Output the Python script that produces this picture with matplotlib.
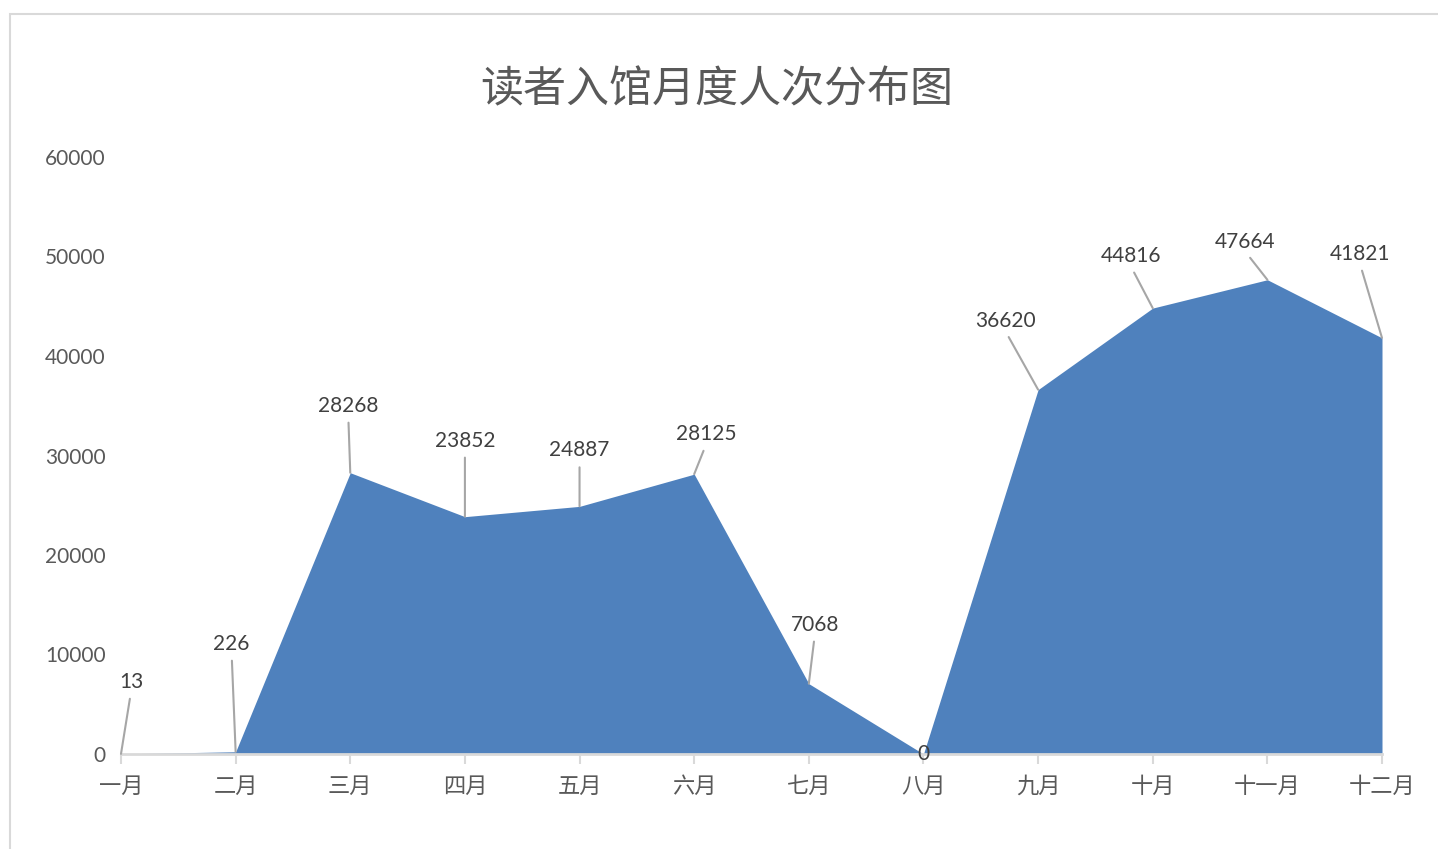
import numpy as np
import matplotlib
matplotlib.use("Agg")
import matplotlib.pyplot as plt
from matplotlib.patches import Rectangle

plt.rcParams['font.family'] = ['Noto Sans CJK SC', 'DejaVu Sans']

# data
months = ["一月", "二月", "三月", "四月", "五月", "六月",
          "七月", "八月", "九月", "十月", "十一月", "十二月"]
visits = [13, 226, 28268, 23852, 24887, 28125, 7068, 0, 36620, 44816, 47664, 41821]
y_ticks = [0, 10000, 20000, 30000, 40000, 50000, 60000]

# label offsets in pixels (dx, dy) relative to each point
label_offsets = [(10, 72), (-4, 108), (-2, 67), (0, 76), (0, 56), (12, 40),
                 (6, 59), (0, 0), (-33, 69), (-22, 52), (-22, 38), (-22, 84)]

W, H = 1438, 849
fig = plt.figure(figsize=(W / 100, H / 100), dpi=100)
fig.patch.set_facecolor("white")

# outer chart frame (cropped at right/bottom)
fig.patches.append(Rectangle((10 / W, -0.05), 1.1, 1 - 14 / H + 0.05,
                             transform=fig.transFigure, fill=False,
                             edgecolor="#D9D9D9", linewidth=1.5))

ax = fig.add_axes([121 / W, (H - 754) / H, (1382 - 121) / W, (754 - 157) / H])
x = np.arange(len(months))
ax.fill_between(x, visits, 0, color="#4F81BD", linewidth=0)

ax.set_xlim(0, len(months) - 1)
ax.set_ylim(0, 60000)
ax.set_yticks(y_ticks)
ax.set_yticklabels([str(v) for v in y_ticks], family="Lato", fontsize=15, color="#595959")
ax.set_xticks(x)
ax.set_xticklabels(months, fontsize=16, color="#595959")

for s in ["top", "right", "left"]:
    ax.spines[s].set_visible(False)
ax.spines["bottom"].set_color("#D9D9D9")
ax.spines["bottom"].set_linewidth(2)
ax.tick_params(axis="x", direction="out", length=7, width=1.5, color="#D9D9D9", pad=8)
ax.tick_params(axis="y", length=0, pad=11)

for i, v in enumerate(visits):
    dx, dy = label_offsets[i]
    if dx == 0 and dy == 0:
        ax.annotate(str(v), xy=(i, v), xytext=(0, 0), textcoords="offset pixels",
                    ha="center", va="center", family="Lato", fontsize=15, color="#404040",
                    annotation_clip=False)
        continue
    ax.annotate(str(v), xy=(i, v), xytext=(dx, dy), textcoords="offset pixels",
                ha="center", va="center", family="Lato", fontsize=15, color="#404040",
                annotation_clip=False,
                arrowprops=dict(arrowstyle="-", color="#A6A6A6", lw=1.5,
                                relpos=(0.5, 0.0), shrinkA=3, shrinkB=0))

fig.text(717 / W, 1 - 90 / H, "读者入馆月度人次分布图", ha="center", va="center",
         fontsize=31, color="#595959")

fig.savefig("out.png", dpi=100, facecolor="white")
